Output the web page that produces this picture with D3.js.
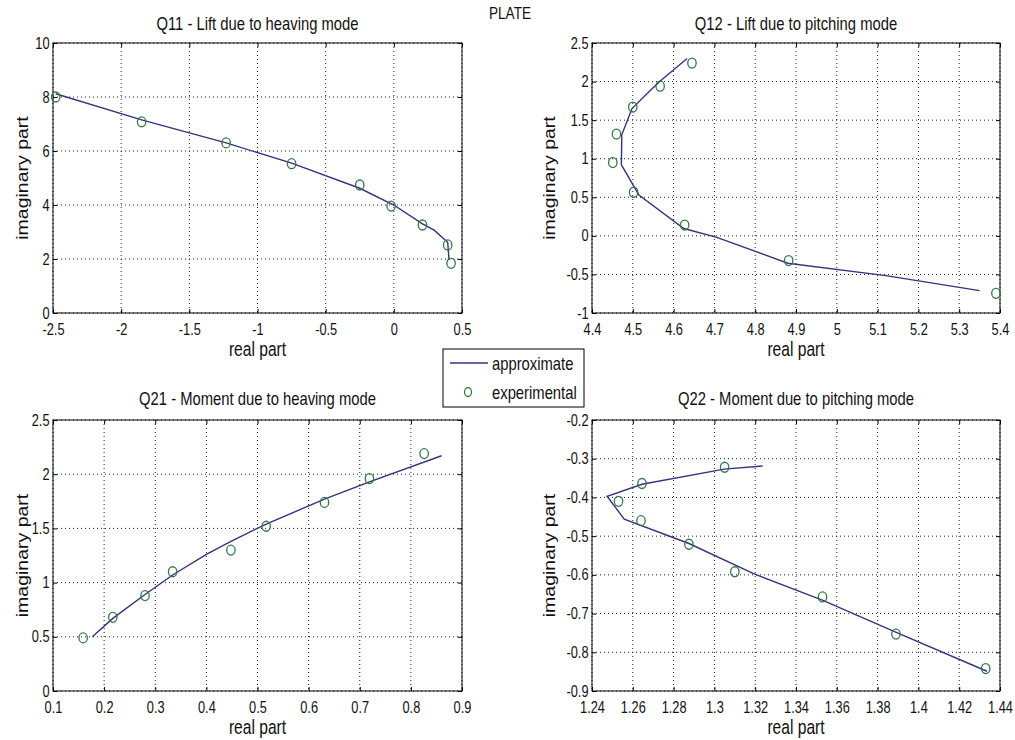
<!DOCTYPE html>
<html>
<head>
<meta charset="utf-8">
<script src="https://cdn.jsdelivr.net/npm/d3@7"></script>
<style>
  body { margin: 0; background: #fff; }
  svg text { font-family: "Liberation Sans", Arial, sans-serif; fill: #111; }
</style>
</head>
<body>
<div id="chart"></div>
<script>
// data: real / imaginary parts
const q11ExpRe = [-2.48, -1.85, -1.23, -0.75, -0.25, -0.02, 0.21, 0.395, 0.42];
const q11ExpIm = [8.0, 7.08, 6.3, 5.53, 4.74, 3.96, 3.26, 2.52, 1.84];
const q11ApxRe = [-2.48, -1.85, -1.23, -0.75, -0.25, 0.0, 0.21, 0.296, 0.395, 0.405];
const q11ApxIm = [8.12, 7.15, 6.3, 5.55, 4.62, 4.0, 3.3, 3.07, 2.62, 1.96];

const q12ExpRe = [4.645, 4.567, 4.50, 4.46, 4.451, 4.502, 4.627, 4.882, 5.39];
const q12ExpIm = [2.24, 1.94, 1.67, 1.32, 0.95, 0.565, 0.14, -0.32, -0.745];
const q12ApxRe = [4.633, 4.566, 4.544, 4.498, 4.473, 4.472, 4.515, 4.625, 4.706, 4.88, 5.12, 5.35];
const q12ApxIm = [2.30, 2.00, 1.89, 1.65, 1.31, 0.92, 0.53, 0.095, -0.02, -0.355, -0.515, -0.71];

const q21ExpRe = [0.159, 0.217, 0.28, 0.334, 0.448, 0.517, 0.631, 0.719, 0.826];
const q21ExpIm = [0.49, 0.68, 0.88, 1.10, 1.30, 1.52, 1.74, 1.96, 2.19];
const q21ApxRe = [0.177, 0.217, 0.28, 0.334, 0.40, 0.448, 0.517, 0.631, 0.719, 0.86];
const q21ApxIm = [0.50, 0.67, 0.89, 1.07, 1.26, 1.38, 1.54, 1.77, 1.93, 2.17];

const q22ExpRe = [1.305, 1.2645, 1.253, 1.264, 1.2875, 1.310, 1.353, 1.389, 1.433];
const q22ExpIm = [-0.322, -0.364, -0.41, -0.46, -0.521, -0.592, -0.657, -0.753, -0.842];
const q22ApxRe = [1.3236, 1.3048, 1.2645, 1.2474, 1.2558, 1.2875, 1.3192, 1.3532, 1.3894, 1.4336];
const q22ApxIm = [-0.319, -0.327, -0.366, -0.397, -0.456, -0.519, -0.597, -0.666, -0.749, -0.849];

// tick values
const q11XTicks = [-2.5, -2, -1.5, -1, -0.5, 0, 0.5];
const q11YTicks = [0, 2, 4, 6, 8, 10];
const q12XTicks = [4.4, 4.5, 4.6, 4.7, 4.8, 4.9, 5, 5.1, 5.2, 5.3, 5.4];
const q12YTicks = [-1, -0.5, 0, 0.5, 1, 1.5, 2, 2.5];
const q21XTicks = [0.1, 0.2, 0.3, 0.4, 0.5, 0.6, 0.7, 0.8, 0.9];
const q21YTicks = [0, 0.5, 1, 1.5, 2, 2.5];
const q22XTicks = [1.24, 1.26, 1.28, 1.3, 1.32, 1.34, 1.36, 1.38, 1.4, 1.42, 1.44];
const q22YTicks = [-0.9, -0.8, -0.7, -0.6, -0.5, -0.4, -0.3, -0.2];

const titles = ["Q11 - Lift due to heaving mode", "Q12 - Lift due to pitching mode",
                "Q21 - Moment due to heaving mode", "Q22 - Moment due to pitching mode"];
const legendLabels = ["approximate", "experimental"];

const lineColor = "#3b2f80";
const markColor = "#2f7a45";
const SQ = 0.8;   // the picture is squeezed sideways, so is the text

const svg = d3.select("#chart").append("svg")
    .attr("width", 1015).attr("height", 740);

function hText(g, x, y, str, size, anchor) {
    return g.append("text")
        .attr("transform", `translate(${x},${y}) scale(${SQ},1)`)
        .attr("text-anchor", anchor || "middle")
        .style("font-size", size + "px")
        .text(str);
}

function drawPanel(p) {
    const w = p.w, h = p.h;
    const g = svg.append("g").attr("transform", `translate(${p.left},${p.top})`);
    const x = d3.scaleLinear().domain(d3.extent(p.xTicks)).range([0, w]);
    const y = d3.scaleLinear().domain(d3.extent(p.yTicks)).range([h, 0]);

    g.append("rect").attr("width", w).attr("height", h).attr("fill", "#fff");

    // dotted grid
    g.selectAll(".gx").data(p.xTicks).join("line")
        .attr("x1", d => x(d)).attr("x2", d => x(d))
        .attr("y1", 0).attr("y2", h)
        .attr("stroke", "#222").attr("stroke-dasharray", "1,3");
    g.selectAll(".gy").data(p.yTicks).join("line")
        .attr("y1", d => y(d)).attr("y2", d => y(d))
        .attr("x1", 0).attr("x2", w)
        .attr("stroke", "#222").attr("stroke-dasharray", "1,3");

    const fmt = d => String(d);
    const xa = g.append("g").attr("transform", `translate(0,${h})`)
        .call(d3.axisBottom(x).tickValues(p.xTicks).tickFormat(fmt).tickSizeInner(-4).tickSizeOuter(0).tickPadding(11));
    const ya = g.append("g")
        .call(d3.axisLeft(y).tickValues(p.yTicks).tickFormat(fmt).tickSizeInner(-4).tickSizeOuter(0).tickPadding(3.5));
    g.append("g")
        .call(d3.axisTop(x).tickValues(p.xTicks).tickFormat("").tickSizeInner(-4).tickSizeOuter(0));
    g.append("g").attr("transform", `translate(${w},0)`)
        .call(d3.axisRight(y).tickValues(p.yTicks).tickFormat("").tickSizeInner(-4).tickSizeOuter(0));
    g.selectAll(".domain").remove();
    g.selectAll(".tick line").attr("stroke", "#000");
    [xa, ya].forEach(a => a.selectAll("text")
        .attr("transform", `scale(${SQ},1)`)
        .style("font-size", "16px")
        .style("font-family", "'Liberation Sans', Arial, sans-serif")
        .attr("fill", "#111"));
    ya.selectAll("text").attr("x", -3.5 / SQ);

    g.append("rect").attr("width", w).attr("height", h)
        .attr("fill", "none").attr("stroke", "#000");

    const line = d3.line().x(d => x(d[0])).y(d => y(d[1]));
    g.append("path")
        .datum(p.apxRe.map((v, i) => [v, p.apxIm[i]]))
        .attr("d", line)
        .attr("fill", "none").attr("stroke", lineColor).attr("stroke-width", 1.4);

    g.selectAll(".pt").data(p.expRe.map((v, i) => [v, p.expIm[i]])).join("ellipse")
        .attr("cx", d => x(d[0])).attr("cy", d => y(d[1]))
        .attr("rx", 4.2).attr("ry", 5)
        .attr("fill", "none").attr("stroke", markColor).attr("stroke-width", 1.3);

    hText(g, w / 2, p.titleY, p.title, 18.5);
    hText(g, w / 2, h + 43, "real part", 19.5);
    g.append("text")
        .attr("transform", `translate(${p.ylabX},${h / 2}) rotate(-90) scale(1,${SQ})`)
        .attr("text-anchor", "middle")
        .style("font-size", "19.5px")
        .text("imaginary part");
}

const panels = [
    {left: 53, top: 43, w: 409, h: 270, xTicks: q11XTicks, yTicks: q11YTicks,
     expRe: q11ExpRe, expIm: q11ExpIm, apxRe: q11ApxRe, apxIm: q11ApxIm, title: titles[0], titleY: -13, ylabX: -25},
    {left: 592, top: 43, w: 408, h: 270, xTicks: q12XTicks, yTicks: q12YTicks,
     expRe: q12ExpRe, expIm: q12ExpIm, apxRe: q12ApxRe, apxIm: q12ApxIm, title: titles[1], titleY: -13, ylabX: -37},
    {left: 53, top: 420, w: 409, h: 271, xTicks: q21XTicks, yTicks: q21YTicks,
     expRe: q21ExpRe, expIm: q21ExpIm, apxRe: q21ApxRe, apxIm: q21ApxIm, title: titles[2], titleY: -15, ylabX: -25},
    {left: 592, top: 420, w: 408, h: 271, xTicks: q22XTicks, yTicks: q22YTicks,
     expRe: q22ExpRe, expIm: q22ExpIm, apxRe: q22ApxRe, apxIm: q22ApxIm, title: titles[3], titleY: -15, ylabX: -37}
];
panels.forEach(drawPanel);

// figure caption
hText(svg, 531, 19, "PLATE", 17, "end");

// legend
const lg = svg.append("g").attr("transform", "translate(443,349)");
lg.append("rect").attr("width", 141).attr("height", 58)
    .attr("fill", "#fff").attr("stroke", "#000");
lg.append("line").attr("x1", 7).attr("x2", 45).attr("y1", 14).attr("y2", 14)
    .attr("stroke", lineColor).attr("stroke-width", 1.4);
lg.append("ellipse").attr("cx", 25).attr("cy", 43).attr("rx", 3.5).attr("ry", 4.5)
    .attr("fill", "none").attr("stroke", markColor).attr("stroke-width", 1.3);
hText(lg, 49, 21, legendLabels[0], 18.5, "start");
hText(lg, 49, 50, legendLabels[1], 18.5, "start");
</script>
</body>
</html>
